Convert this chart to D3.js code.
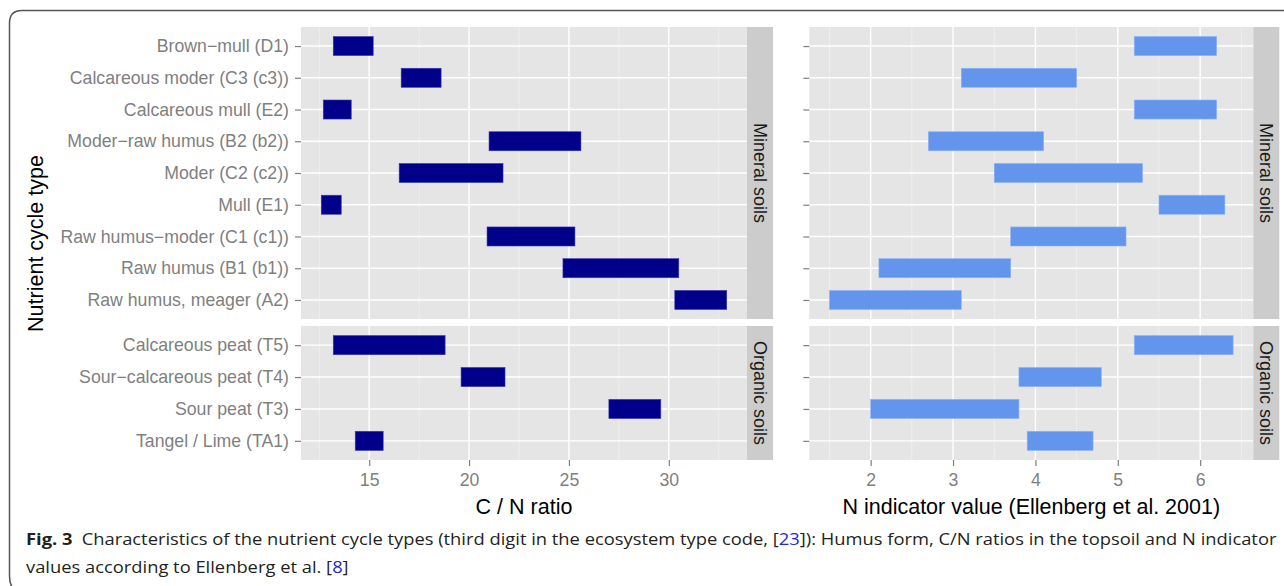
<!DOCTYPE html>
<html><head><meta charset="utf-8">
<script src="https://cdn.jsdelivr.net/npm/d3@7"></script>
<style>body{margin:0;background:#fff;}svg{display:block;}</style>
</head><body>
<svg id="chart" width="1284" height="586"></svg>
<script>
// ---- data ----
const mineralTypes = ["Brown\u2212mull (D1)","Calcareous moder (C3 (c3))","Calcareous mull (E2)","Moder\u2212raw humus (B2 (b2))","Moder (C2 (c2))","Mull (E1)","Raw humus\u2212moder (C1 (c1))","Raw humus (B1 (b1))","Raw humus, meager (A2)"];
const organicTypes = ["Calcareous peat (T5)","Sour\u2212calcareous peat (T4)","Sour peat (T3)","Tangel / Lime (TA1)"];
const mineralCnLow  = [13.2,16.6,12.7,21.0,16.5,12.6,20.9,24.7,30.3];
const mineralCnHigh = [15.2,18.6,14.1,25.6,21.7,13.6,25.3,30.5,32.9];
const organicCnLow  = [13.2,19.6,27.0,14.3];
const organicCnHigh = [18.8,21.8,29.6,15.7];
const mineralNLow   = [5.2,3.1,5.2,2.7,3.5,5.5,3.7,2.1,1.5];
const mineralNHigh  = [6.2,4.5,6.2,4.1,5.3,6.3,5.1,3.7,3.1];
const organicNLow   = [5.2,3.8,2.0,3.9];
const organicNHigh  = [6.4,4.8,3.8,4.7];
const facetLabels = ["Mineral soils","Organic soils"];
const cnTicks = [15,20,25,30];
const cnMinor = [12.5,17.5,22.5,27.5,32.5];
const nTicks = [2,3,4,5,6];
const nMinor = [1.5,2.5,3.5,4.5,5.5,6.5];

const svg = d3.select("#chart");
const FONT = "'Liberation Sans', Arial, Helvetica, sans-serif";

// frame
svg.append("path")
  .attr("d","M1300,10.5 L22,10.5 Q9.5,10.5 9.5,23 L9.5,576 Q9.5,590 20,592")
  .attr("fill","none").attr("stroke","#555").attr("stroke-width",1.5);

const panelsY = [{top:27,bottom:319},{top:326,bottom:460}];
const facets = [
  {types:mineralTypes, cnLow:mineralCnLow, cnHigh:mineralCnHigh, nLow:mineralNLow, nHigh:mineralNHigh},
  {types:organicTypes, cnLow:organicCnLow, cnHigh:organicCnHigh, nLow:organicNLow, nHigh:organicNHigh}
];

function expandDomain(lows, highs){
  const lo = d3.min(lows), hi = d3.max(highs), r = hi-lo;
  return [lo-0.05*r, hi+0.05*r];
}
const xCN = d3.scaleLinear()
  .domain(expandDomain(mineralCnLow.concat(organicCnLow), mineralCnHigh.concat(organicCnHigh)))
  .range([301,747]);
const xN = d3.scaleLinear()
  .domain(expandDomain(mineralNLow.concat(organicNLow), mineralNHigh.concat(organicNHigh)))
  .range([809.3,1253.3]);

const panels = [
  {x:xCN, key:["cnLow","cnHigh"], ticks:cnTicks, minor:cnMinor, fill:"#00008b", stroke:"#3a3aa8", labels:true, stripX:747, title:"C / N ratio"},
  {x:xN, key:["nLow","nHigh"], ticks:nTicks, minor:nMinor, fill:"#6495ed", stroke:"#8fb2f2", labels:false, stripX:1253.3, title:"N indicator value (Ellenberg et al. 2001)"}
];

panels.forEach(p=>{
  const [x0,x1] = p.x.range();
  facets.forEach((f,fi)=>{
    const py = panelsY[fi];
    const y = d3.scalePoint().domain(f.types).range([py.top,py.bottom]).padding(0.6);
    const g = svg.append("g");
    g.append("rect").attr("x",x0).attr("y",py.top).attr("width",x1-x0).attr("height",py.bottom-py.top).attr("fill","#e5e5e5");
    // minor grid
    g.selectAll(".mn").data(p.minor.filter(v=>p.x(v)>x0&&p.x(v)<x1)).enter().append("line")
      .attr("x1",d=>p.x(d)).attr("x2",d=>p.x(d)).attr("y1",py.top).attr("y2",py.bottom)
      .attr("stroke","#f2f2f2").attr("stroke-width",0.7);
    // major grid
    g.selectAll(".mj").data(p.ticks).enter().append("line")
      .attr("x1",d=>p.x(d)).attr("x2",d=>p.x(d)).attr("y1",py.top).attr("y2",py.bottom)
      .attr("stroke","#fff").attr("stroke-width",1.4);
    g.selectAll(".hy").data(f.types).enter().append("line")
      .attr("x1",x0).attr("x2",x1).attr("y1",d=>y(d)).attr("y2",d=>y(d))
      .attr("stroke","#fff").attr("stroke-width",1.4);
    // bars
    const bh = y.step()*0.6;
    g.selectAll(".bar").data(f.types).enter().append("rect")
      .attr("x",(d,i)=>p.x(f[p.key[0]][i]))
      .attr("width",(d,i)=>p.x(f[p.key[1]][i])-p.x(f[p.key[0]][i]))
      .attr("y",d=>y(d)-bh/2).attr("height",bh)
      .attr("fill",p.fill).attr("stroke",p.stroke).attr("stroke-width",0.6);
    // y axis
    const ax = svg.append("g").attr("transform",`translate(${x0},0)`)
      .call(d3.axisLeft(y).tickSize(6).tickPadding(6).tickFormat(p.labels? (d=>d) : (()=>"")));
    ax.select(".domain").remove();
    ax.selectAll(".tick line").attr("stroke","#7f7f7f").attr("stroke-width",1.2);
    ax.selectAll(".tick text").attr("fill","#7f7f7f").style("font-family",FONT).style("font-size","17.7px");
    // strip
    svg.append("rect").attr("x",p.stripX).attr("y",py.top).attr("width",26).attr("height",py.bottom-py.top).attr("fill","#cccccc");
    svg.append("text")
      .attr("transform",`translate(${p.stripX+13},${(py.top+py.bottom)/2}) rotate(90)`)
      .attr("text-anchor","middle").attr("dy","0.35em")
      .style("font-family",FONT).style("font-size","18px").attr("fill","#1a1a1a")
      .text(facetLabels[fi]);
  });
  // x axis
  const xa = svg.append("g").attr("transform",`translate(0,${panelsY[1].bottom})`)
    .call(d3.axisBottom(p.x).tickValues(p.ticks).tickFormat(d3.format("d")).tickSize(6).tickPadding(7));
  xa.select(".domain").remove();
  xa.selectAll(".tick line").attr("stroke","#7f7f7f").attr("stroke-width",1.2);
  xa.selectAll(".tick text").attr("fill","#7f7f7f").style("font-family",FONT).style("font-size","17.7px");
  svg.append("text").attr("x",(x0+x1)/2).attr("y",514).attr("text-anchor","middle")
    .style("font-family",FONT).style("font-size","21.5px").attr("fill","#000").text(p.title);
});

// y axis title
svg.append("text").attr("transform",`translate(43,${(27+460)/2}) rotate(-90)`)
  .attr("text-anchor","middle")
  .style("font-family",FONT).style("font-size","21.5px").attr("fill","#000").text("Nutrient cycle type");

// caption
const CAP = "'Open Sans', 'Noto Sans', sans-serif";
const cap = svg.append("g").attr("transform","translate(26,0)");
const l1 = cap.append("text").attr("x",0).attr("y",545).style("font-family",CAP).style("font-size","16.5px").attr("fill","#231f20");
l1.append("tspan").style("font-weight","bold").text("Fig. 3");
l1.append("tspan").text("\u2002Characteristics of the nutrient cycle types (third digit in the ecosystem type code, [");
l1.append("tspan").attr("fill","#2424e6").text("23");
l1.append("tspan").text("]): Humus form, C/N ratios in the topsoil and N indicator");
const l2 = cap.append("text").attr("x",0).attr("y",573).style("font-family",CAP).style("font-size","16.5px").attr("fill","#231f20");
l2.append("tspan").text("values according to Ellenberg et al. [");
l2.append("tspan").attr("fill","#2424e6").text("8");
l2.append("tspan").text("]");
const w1 = l1.node().getComputedTextLength();
const sx = 1251 / w1;
cap.attr("transform",`translate(26,0) scale(${sx},1)`);
</script>
</body></html>
